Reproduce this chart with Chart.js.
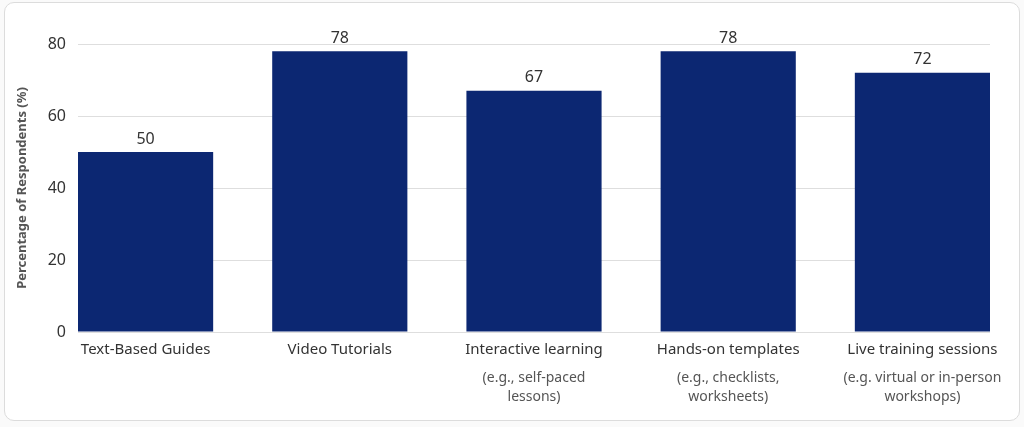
<!DOCTYPE html>
<html>
<head>
<meta charset="utf-8">
<script src="https://cdn.jsdelivr.net/npm/chart.js@4.4.0/dist/chart.umd.min.js"></script>
<style>
  html, body { margin: 0; padding: 0; background: #fafafa; }
  #card {
    position: absolute; left: 4px; top: 2px; width: 1014px; height: 417px;
    background: #fff; border: 1px solid #dcdcdc; border-radius: 10px;
  }
  #wrap { position: absolute; left: 0; top: 0; width: 1024px; height: 427px; }
</style>
</head>
<body>
<div id="card"></div>
<div id="wrap"><canvas id="c"></canvas></div>
<script>
// categories: main label + lighter sub-label lines
const categories = ['Text-Based Guides', 'Video Tutorials', 'Interactive learning', 'Hands-on templates', 'Live training sessions'];
const subLabels = [
    [],
    [],
    ['(e.g., self-paced', 'lessons)'],
    ['(e.g., checklists,', 'worksheets)'],
    ['(e.g. virtual or in-person', 'workshops)']
];
const percentValues = [50, 78, 67, 78, 72];
const yTicks = [0, 20, 40, 60, 80];

const FONT = 'Noto Sans';
const barColor = '#0c2772';
const idx = categories.map((_, i) => i);

// linear index axis so bars can sit flush with the grid ends
const edge = 0.348;
const onlyIndexTicks = (scale) => { scale.ticks = idx.map(v => ({ value: v })); };

// value labels above each bar
const valueLabels = {
    id: 'valueLabels',
    afterDatasetsDraw(chart) {
        const ctx = chart.ctx;
        const meta = chart.getDatasetMeta(0);
        ctx.save();
        ctx.font = '16px "' + FONT + '"';
        ctx.fillStyle = '#333';
        ctx.textAlign = 'center';
        ctx.textBaseline = 'bottom';
        meta.data.forEach((bar, i) => {
            ctx.fillText(String(percentValues[i]), bar.x, bar.y - 5);
        });
        ctx.restore();
    }
};

new Chart(document.getElementById('c'), {
    type: 'bar',
    data: {
        datasets: [{
            data: idx.map(i => ({ x: i, y: percentValues[i] })),
            backgroundColor: barColor,
            borderWidth: 0,
            categoryPercentage: 1.0,
            barPercentage: 0.696
        }]
    },
    options: {
        responsive: true,
        maintainAspectRatio: false,
        animation: false,
        layout: { padding: { left: 0, right: 34, top: 44, bottom: 0 } },
        scales: {
            x: {
                type: 'linear',
                position: 'bottom',
                offset: false,
                weight: 0,
                min: -edge,
                max: categories.length - 1 + edge,
                afterBuildTicks: onlyIndexTicks,
                afterFit: (s) => { s.height = 26; },
                grid: { display: false, offset: false },
                border: { display: false },
                ticks: {
                    autoSkip: false,
                    maxRotation: 0,
                    padding: 1,
                    color: '#333',
                    font: { family: FONT, size: 15 },
                    callback: (v) => categories[v] || ''
                }
            },
            x2: {
                type: 'linear',
                position: 'bottom',
                offset: false,
                weight: 1,
                min: -edge,
                max: categories.length - 1 + edge,
                afterBuildTicks: onlyIndexTicks,
                afterFit: (s) => { s.height = 69; },
                grid: { display: false },
                border: { display: false },
                ticks: {
                    autoSkip: false,
                    maxRotation: 0,
                    padding: 2,
                    color: '#555',
                    font: { family: FONT, size: 14, lineHeight: 1.36 },
                    callback: (v) => subLabels[v] && subLabels[v].length ? subLabels[v] : ''
                }
            },
            y: {
                min: 0,
                max: 80,
                afterBuildTicks: (s) => { s.ticks = yTicks.map(v => ({ value: v })); },
                afterFit: (s) => { s.width = 78; },
                grid: { color: '#dedede', drawTicks: false },
                border: { display: false },
                ticks: {
                    padding: 12,
                    color: '#333',
                    font: { family: FONT, size: 16 }
                },
                title: {
                    display: true,
                    text: 'Percentage of Respondents (%)',
                    color: '#555',
                    padding: { top: 14, bottom: 0 },
                    font: { family: FONT, size: 13, weight: 'bold' }
                }
            }
        },
        plugins: {
            legend: { display: false },
            tooltip: { enabled: false }
        }
    },
    plugins: [valueLabels]
});
</script>
</body>
</html>
